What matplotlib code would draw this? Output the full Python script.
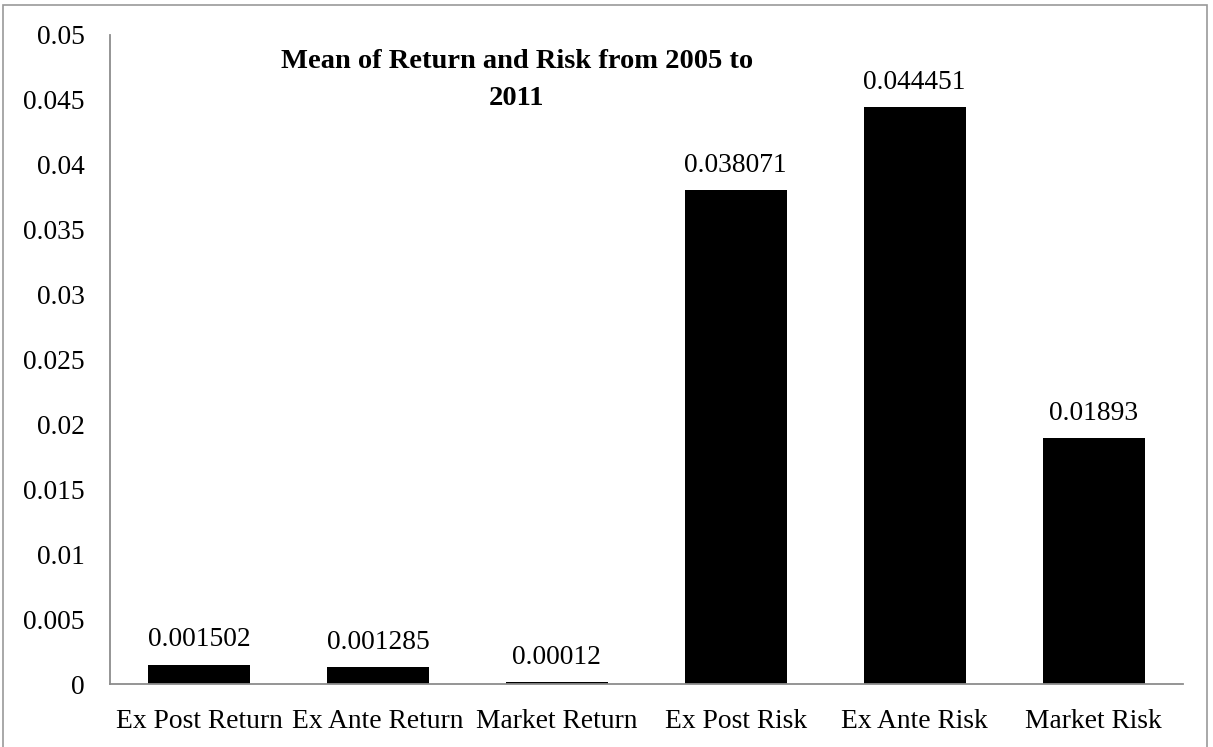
import matplotlib.pyplot as plt
from matplotlib.patches import Rectangle

# Data
categories = ["Ex Post Return", "Ex Ante Return", "Market Return",
              "Ex Post Risk", "Ex Ante Risk", "Market Risk"]
values = [0.001502, 0.001285, 0.00012, 0.038071, 0.044451, 0.01893]
labels = ["0.001502", "0.001285", "0.00012", "0.038071", "0.044451", "0.01893"]
yticks = [0, 0.005, 0.01, 0.015, 0.02, 0.025, 0.03, 0.035, 0.04, 0.045, 0.05]
ytick_labels = ["0", "0.005", "0.01", "0.015", "0.02", "0.025",
                "0.03", "0.035", "0.04", "0.045", "0.05"]

plt.rcParams['font.family'] = ['Liberation Serif', 'DejaVu Serif']

fig = plt.figure(figsize=(12.13, 7.47), dpi=100)
ax = fig.add_axes([0.0903, 0.0843, 0.885, 0.869])

x = range(len(categories))
ax.bar(x, values, width=0.57, color='black')

for i, (v, lab) in enumerate(zip(values, labels)):
    ax.annotate(lab, (i, v), xytext=(0, 13), textcoords='offset points',
                ha='center', va='baseline', fontsize=19.8)

ax.set_xlim(-0.5, 5.5)
ax.set_ylim(0, 0.05)
ax.set_yticks(yticks)
ax.set_yticklabels(ytick_labels)
ax.set_xticks(list(x))
ax.set_xticklabels(categories)
ax.tick_params(axis='both', length=0, labelsize=19.8)
ax.tick_params(axis='y', pad=18)
ax.tick_params(axis='x', pad=18)

for s in ['top', 'right']:
    ax.spines[s].set_visible(False)
for s in ['left', 'bottom']:
    ax.spines[s].set_color('#8c8c8c')
    ax.spines[s].set_linewidth(1.3)

fig.text(0.426, 0.893, "Mean of Return and Risk from 2005 to\n2011",
         ha='center', va='center', fontsize=20.5, fontweight='bold',
         linespacing=1.6)

# outer frame (bottom edge runs off the picture)
fig.patches.append(Rectangle((3 / 1213, -5 / 747), 1204 / 1213, 747 / 747,
                             transform=fig.transFigure, fill=False,
                             edgecolor='#999999', linewidth=1.2))

fig.savefig("out.png", dpi=100)
